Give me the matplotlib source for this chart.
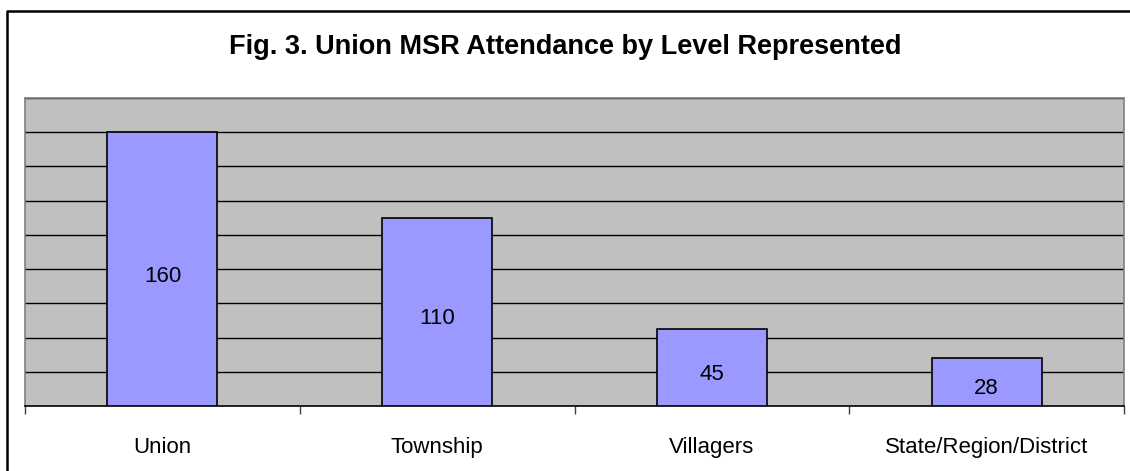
import numpy as np
import matplotlib
matplotlib.use("Agg")
import matplotlib.pyplot as plt
from matplotlib.lines import Line2D

plt.rcParams["font.family"] = ["Liberation Sans", "DejaVu Sans"]

categories = ["Union", "Township", "Villagers", "State/Region/District"]
attendance = [160, 110, 45, 28]
title = "Fig. 3. Union MSR Attendance by Level Represented"

W, H = 1130, 471
fig = plt.figure(figsize=(W / 100, H / 100), dpi=100)
ax = fig.add_axes([25 / W, 1 - 406 / H, (1124 - 25) / W, (406 - 98) / H])

x = np.arange(len(categories))
bars = ax.bar(x, attendance, width=0.4, color="#9999FF", edgecolor="black",
              linewidth=1.2, zorder=3)
for b, v in zip(bars, attendance):
    ax.annotate(str(v), (b.get_x() + b.get_width() / 2, v / 2),
                xytext=(0, -5), textcoords="offset points",
                ha="center", va="center", fontsize=16, zorder=4)

ax.set_xlim(-0.5, len(categories) - 0.5)
ax.set_ylim(0, 180)
ax.set_facecolor("#C0C0C0")
ax.set_yticks(np.arange(20, 181, 20))
ax.yaxis.grid(True, color="black", linewidth=1.0, zorder=0)
ax.tick_params(axis="y", left=False, labelleft=False)

# category boundaries as ticks, names centred between them
ax.set_xticks(np.arange(-0.5, len(categories)), labels=[""] * (len(categories) + 1))
ax.set_xticks(x, labels=categories, minor=True)
ax.tick_params(axis="x", which="major", length=6, width=1, color="#404040")
ax.tick_params(axis="x", which="minor", length=0, pad=22, labelsize=16)

for s in ["left", "top", "right"]:
    ax.spines[s].set_color("#808080")
    ax.spines[s].set_linewidth(1.2)
ax.spines["bottom"].set_color("black")
ax.spines["bottom"].set_linewidth(1.2)

fig.text(565 / W, 1 - 47 / H, title, ha="center", va="center",
         fontsize=19.5, fontweight="bold")

# outer chart frame (only left and top edges fall inside the image)
fig.add_artist(Line2D([7 / W, 7 / W, 1.0], [0.0, 1 - 11 / H, 1 - 11 / H],
                      transform=fig.transFigure, color="black", linewidth=1.8))

fig.savefig("out.png", dpi=100)
